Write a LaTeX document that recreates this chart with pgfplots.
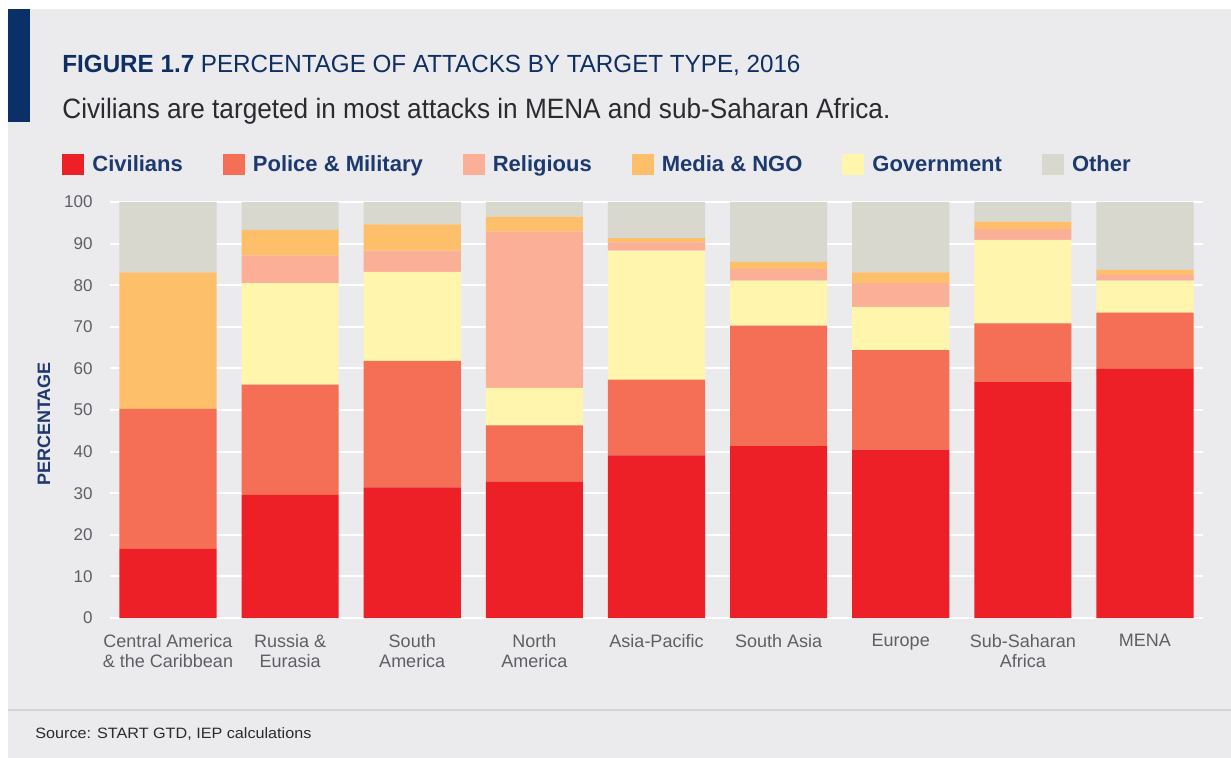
\documentclass[border=0pt]{standalone}
\usepackage{pgfplots}
\usepackage{pgfplotstable}
\pgfplotsset{compat=1.18}
\usepackage{fontspec}
\setmainfont{Liberation Sans}

\definecolor{civ}{HTML}{ED1F27}
\definecolor{pol}{HTML}{F46F55}
\definecolor{rel}{HTML}{FBAF96}
\definecolor{med}{HTML}{FEBF6B}
\definecolor{gov}{HTML}{FFF5AD}
\definecolor{oth}{HTML}{D8D8CE}
\definecolor{panel}{HTML}{EBEBED}
\definecolor{navybar}{HTML}{0B3068}
\definecolor{titleblue}{HTML}{0E2F63}
\definecolor{legblue}{HTML}{1D3A70}
\definecolor{subtext}{HTML}{2A2B30}
\definecolor{ticktext}{HTML}{5E5E66}
\definecolor{sepline}{HTML}{D4D4D7}

% share of attacks (%), stacked bottom to top
\pgfplotstableread{
x civ  pol  gov  rel  med  oth
0 16.6 33.7 0.0  0.0  32.8 16.9
1 29.6 26.5 24.4 6.6  6.2  6.7
2 31.4 30.4 21.4 5.1  6.3  5.4
3 32.7 13.6 9.0  37.6 3.6  3.5
4 39.1 18.2 31.0 2.0  1.0  8.7
5 41.3 29.0 10.8 2.8  1.7  14.4
6 40.5 23.9 10.4 5.7  2.6  16.9
7 56.7 14.1 20.1 2.6  1.8  4.7
8 59.9 13.5 7.7  1.4  1.2  16.3
}\attacks

\begin{document}
\begin{tikzpicture}
\begin{scope}[x=0.5pt,y=-0.5pt]
  \useasboundingbox (0,0) rectangle (1231,758);
  \fill[white] (0,0) rectangle (1231,758);
  \fill[panel] (8,9) rectangle (1231,758);
  \fill[navybar] (8,9) rectangle (30,122);
  \draw[sepline, line width=1pt] (8,710) -- (1231,710);
  \node[anchor=base west, inner sep=0pt, text=titleblue] at (62,73)
    {\resizebox{369pt}{\height}{\fontsize{12.4}{14}\selectfont\textbf{FIGURE 1.7} PERCENTAGE OF ATTACKS BY TARGET TYPE, 2016}};
  \node[anchor=base west, inner sep=0pt, text=subtext] at (62,119)
    {\resizebox{414pt}{\height}{\fontsize{14}{16}\selectfont Civilians are targeted in most attacks in MENA and sub-Saharan Africa.}};
  \node[anchor=base west, inner sep=0pt, text=subtext] at (35,738)
    {\resizebox{138pt}{\height}{\fontsize{7.5}{9}\selectfont Source: START GTD, IEP calculations}};
\end{scope}

\begin{axis}[
  at={(55pt,-309pt)}, anchor=south west,
  scale only axis,
  width=546.5pt, height=208pt,
  ybar stacked,
  bar width=0.795,
  xmin=-0.475, xmax=8.475,
  ymin=0, ymax=100,
  ytick={0,10,...,100},
  xtick=data,
  xticklabels={Central America\\\& the Caribbean, Russia \&\\Eurasia, South\\America, North\\America, Asia-Pacific, South Asia, Europe, Sub-Saharan\\Africa, MENA},
  axis line style={draw=none},
  major tick length=0pt,
  ymajorgrids,
  grid style={white, line width=1pt},
  xticklabel style={align=center, font=\fontsize{9}{10}\selectfont, text=ticktext, anchor=north, inner sep=0pt, yshift=-8pt},
  yticklabel style={font=\fontsize{8.5}{10}\selectfont, text=ticktext, anchor=east, inner sep=0pt, xshift=-8.5pt},
  /pgf/number format/assume math mode=true,
  ylabel={PERCENTAGE},
  ylabel style={at={(axis description cs:-0.0604,0.466)}, anchor=center, font=\fontsize{9}{10}\selectfont\bfseries, text=legblue},
  legend image code/.code={\fill[#1] (0pt,-5.25pt) rectangle (11pt,5.25pt);},
  legend style={
    at={(axis description cs:-0.0439,1.1154)}, anchor=north west,
    draw=none, fill=none, inner sep=0pt,
    legend columns=6,
    font=\fontsize{11}{13}\selectfont\bfseries, text=legblue,
    nodes={inner sep=0pt},
    /tikz/every odd column/.append style={column sep=4pt},
    /tikz/every even column/.append style={column sep=20pt},
  },
  legend cell align=left,
]
\addplot[fill=civ, draw=none, forget plot] table[x=x, y=civ] {\attacks};
\addplot[fill=pol, draw=none, forget plot] table[x=x, y=pol] {\attacks};
\addplot[fill=gov, draw=none, forget plot] table[x=x, y=gov] {\attacks};
\addplot[fill=rel, draw=none, forget plot] table[x=x, y=rel] {\attacks};
\addplot[fill=med, draw=none, forget plot] table[x=x, y=med] {\attacks};
\addplot[fill=oth, draw=none, forget plot] table[x=x, y=oth] {\attacks};

\addlegendimage{fill=civ, draw=none}
\addlegendentry{Civilians}
\addlegendimage{fill=pol, draw=none}
\addlegendentry{Police \& Military}
\addlegendimage{fill=rel, draw=none}
\addlegendentry{Religious}
\addlegendimage{fill=med, draw=none}
\addlegendentry{Media \& NGO}
\addlegendimage{fill=gov, draw=none}
\addlegendentry{Government}
\addlegendimage{fill=oth, draw=none}
\addlegendentry{Other}
\end{axis}
\end{tikzpicture}
\end{document}
